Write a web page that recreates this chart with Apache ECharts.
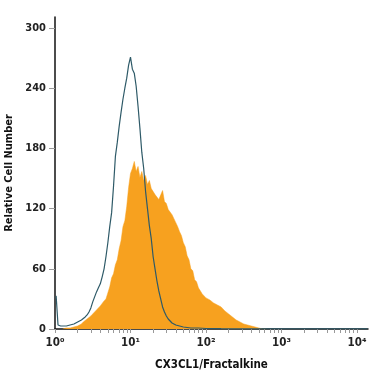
<!DOCTYPE html>
<html>
<head>
<meta charset="utf-8">
<script src="https://cdn.jsdelivr.net/npm/echarts@6/dist/echarts.min.js"></script>
<style>
html,body{margin:0;padding:0;background:#fff;}
#chart{width:375px;height:375px;}
</style>
</head>
<body>
<div id="chart"></div>
<script>
// Fluorescence intensity positions are in decades (log10 of intensity)
const stainedDecades = [0.100,0.125,0.150,0.175,0.200,0.225,0.250,0.275,0.300,0.325,0.350,0.375,0.400,0.425,0.450,0.475,0.500,0.525,0.550,0.575,0.600,0.625,0.650,0.675,0.700,0.725,0.750,0.775,0.800,0.825,0.850,0.875,0.900,0.925,0.950,0.975,1.000,1.025,1.050,1.075,1.100,1.125,1.150,1.175,1.200,1.225,1.250,1.275,1.300,1.325,1.350,1.375,1.400,1.425,1.450,1.475,1.500,1.525,1.550,1.575,1.600,1.625,1.650,1.675,1.700,1.725,1.750,1.775,1.800,1.825,1.850,1.875,1.900,1.925,1.950,1.975,2.000,2.025,2.050,2.075,2.100,2.125,2.150,2.175,2.200,2.225,2.250,2.275,2.300,2.325,2.350,2.375,2.400,2.425,2.450,2.475,2.500,2.525,2.550,2.575,2.600,2.625,2.650,2.675,2.700,2.725,2.750,2.775,2.800];
const stainedCounts = [0,0,1,1,1,2,2,3,3,4,5,7,8,10,11,13,15,16,19,20,23,24,28,30,36,42,51,55,64,69,80,88,102,108,122,141,155,160,167,157,162,151,157,148,153,144,148,140,140,134,135,129,130,138,127,125,119,118,114,110,106,102,97,93,86,82,73,69,60,58,49,47,41,40,35,35,31,32,29,30,26,27,24,25,22,21,18,18,15,15,12,12,9,9,7,7,5,5,4,3,3,2,2,1,1,1,0,0,0];

const controlDecades = [0.015,0.040,0.075,0.100,0.150,0.200,0.250,0.300,0.350,0.400,0.425,0.450,0.475,0.500,0.525,0.550,0.575,0.600,0.625,0.650,0.675,0.700,0.725,0.750,0.775,0.800,0.825,0.850,0.875,0.900,0.925,0.950,0.975,1.000,1.025,1.050,1.075,1.100,1.125,1.150,1.175,1.200,1.225,1.250,1.275,1.300,1.325,1.350,1.375,1.400,1.425,1.450,1.475,1.500,1.550,1.600,1.650,1.700,1.800,1.900,2.000,2.200,2.500,3.000,3.500,4.000,4.140];
const controlCounts = [33,4,3,3,3,4,5,7,9,12,14,17,21,27,32,37,41,45,52,60,72,86,102,116,142,172,186,202,216,229,240,250,263,271,259,255,242,222,200,176,160,137,120,103,90,72,60,48,38,30,22,17,13,10,6,4,3,2,1,1,0.5,0.3,0.2,0.2,0.2,0.2,0.2];

const yTickValues = [0,60,120,180,240,300];
const xDecadeLabels = [0,1,2,3,4];
const supers = ['\u2070','\u00b9','\u00b2','\u00b3','\u2074'];

const xMinorTicks = [];
for (let d = 0; d < 4; d++) {
  for (let m = 1; m <= 9; m++) xMinorTicks.push(d + Math.log10(m));
}
xMinorTicks.push(4);

const FONT = "'Liberation Sans Narrow','DejaVu Sans Condensed','Roboto Condensed','Liberation Sans',sans-serif";

const chart = echarts.init(document.getElementById('chart'), null, {renderer:'canvas'});
chart.setOption({
  animation: false,
  backgroundColor: '#fff',
  grid: {left: 55, right: 7, top: 17, bottom: 46, containLabel: false, outerBoundsMode: 'none'},
  xAxis: {
    type: 'value', min: 0, max: 4.146,
    name: 'CX3CL1/Fractalkine', nameLocation: 'middle', nameGap: 30,
    nameTextStyle: {fontFamily: FONT, fontWeight: 'bold', fontSize: 11.5, color: '#111'},
    axisLine: {show: true, lineStyle: {color: '#111', width: 1.5}},
    axisTick: {show: true, customValues: xMinorTicks, length: 4, lineStyle: {color: '#999', width: 1}},
    axisLabel: {
      customValues: xDecadeLabels, margin: 8,
      formatter: v => '{b|10}{s|' + supers[Math.round(v)] + '}',
      rich: {
        b: {fontFamily: FONT, fontSize: 11.5, fontWeight: 'bold', color: '#222'},
        s: {fontFamily: FONT, fontSize: 11.5, fontWeight: 'bold', color: '#222'}
      }
    },
    splitLine: {show: false}
  },
  yAxis: {
    type: 'value', min: 0, max: 311,
    name: 'Relative Cell Number', nameLocation: 'middle', nameGap: 32, nameRotate: 90,
    nameTextStyle: {fontFamily: FONT, fontWeight: 'bold', fontSize: 11, color: '#111'},
    axisLine: {show: true, lineStyle: {color: '#111', width: 1.5}},
    axisTick: {show: true, customValues: yTickValues, length: 6, lineStyle: {color: '#999', width: 1}},
    axisLabel: {customValues: yTickValues, margin: 9, fontFamily: FONT, fontSize: 11, fontWeight: 'bold', color: '#222'},
    splitLine: {show: false}
  },
  series: [
    {
      name: 'CX3CL1', type: 'line',
      data: stainedDecades.map((x, i) => [x, stainedCounts[i]]),
      showSymbol: false, smooth: false,
      lineStyle: {width: 0.5, color: '#F7A11F'},
      areaStyle: {color: '#F7A11F', opacity: 1},
      z: 2
    },
    {
      name: 'Isotype', type: 'line',
      data: controlDecades.map((x, i) => [x, controlCounts[i]]),
      showSymbol: false, smooth: false,
      lineStyle: {width: 1.2, color: '#2E5A68'},
      z: 3
    }
  ]
});
</script>
</body>
</html>
